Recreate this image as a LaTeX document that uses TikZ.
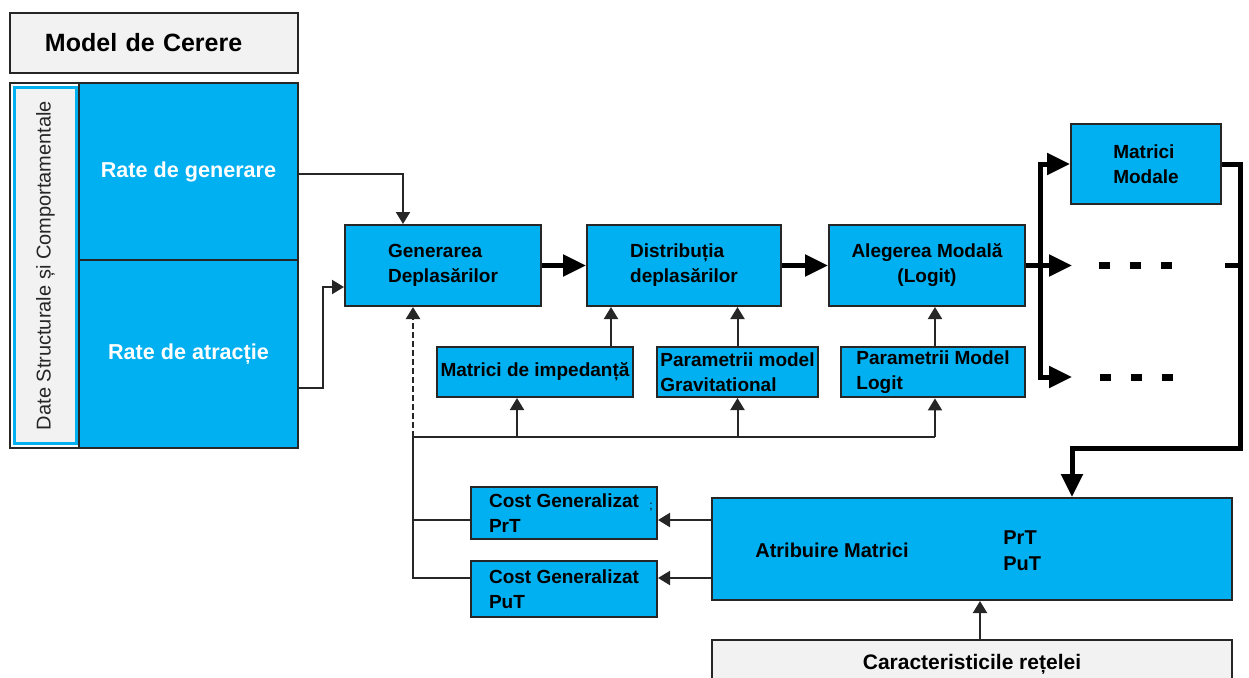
\documentclass[tikz,border=0pt]{standalone}
\usepackage{fontspec}
\setmainfont{Liberation Sans}
\usetikzlibrary{
    arrows.meta,
    calc,
    positioning
}
\definecolor{boxblue}{HTML}{00B0F0}
\definecolor{boxgrey}{HTML}{F2F2F2}
\definecolor{linegrey}{HTML}{262626}
\tikzset{
    bluebox/.style={draw=linegrey, line width=1pt, fill=boxblue, align=left, inner sep=2pt,
        font=\bfseries\fontsize{9.5}{12.5}\selectfont},
    greybox/.style={bluebox, fill=boxgrey},
    arr/.style={draw=linegrey, line width=1pt, -{Triangle[length=6pt,width=7pt]}},
    thk/.style={draw=black, line width=2.5pt},
    thkarr/.style={thk, -{Triangle[length=11.5pt,width=10.5pt]}},
    dashbar/.style={draw=black, line width=3.5pt, dash pattern=on 5.5pt off 10pt}
}

\begin{document}
\begin{tikzpicture}[x=0.5pt, y=-0.5pt]
    \useasboundingbox (0,0) rectangle (1249,677);
    \clip (0,0) rectangle (1249,677);
    % model de cerere
    \node[greybox, minimum width=144pt, minimum height=30pt, text width=109pt, inner xsep=17.5pt,
        font=\bfseries\fontsize{12.5}{14}\selectfont] (mdc) at (154,43) {Model de Cerere};
    \node[bluebox, minimum width=109.5pt, minimum height=88.5pt, text=white,
        font=\bfseries\fontsize{10.8}{13}\selectfont] (rg) at (188.5,171.5) {Rate de generare};
    \node[bluebox, minimum width=109.5pt, minimum height=94pt, text=white,
        font=\bfseries\fontsize{10.8}{13}\selectfont] (ra) at (188.5,354) {Rate de atracție};
    \node[fill=boxgrey, draw=boxblue, line width=1.5pt, minimum width=178pt, minimum height=31pt,
        rotate=90, text=linegrey, font=\fontsize{10}{12}\selectfont] (dsc) at (45.5,265.5)
        {Date Structurale și Comportamentale};
    \draw[linegrey, line width=1pt] (10,83) rectangle (298,448);

    % lantul principal
    \node[bluebox, minimum width=98pt, minimum height=40.5pt] (gen) at (443,265.5) {Generarea\\Deplasărilor};
    \node[bluebox, minimum width=97pt, minimum height=40.5pt] (dist) at (684,265.5) {Distribuția\\deplasărilor};
    \node[bluebox, minimum width=98pt, minimum height=40.5pt, align=center] (ale) at (927,265.5) {Alegerea Modală\\(Logit)};
    \node[bluebox, minimum width=75pt, minimum height=40pt] (mm) at (1146,164) {Matrici\\Modale};

    \node[bluebox, minimum width=98pt, minimum height=25pt] (imp) at (535,372) {Matrici de impedanță};
    \node[bluebox, minimum width=80.5pt, minimum height=25pt, inner xsep=1pt] (grav) at (737.5,372) {Parametrii model\\Gravitational};
    \node[bluebox, minimum width=92pt, minimum height=25pt] (logit) at (933,372) {Parametrii Model\\Logit};

    \node[bluebox, minimum width=93pt, minimum height=26pt] (cprt) at (564,513) {Cost Generalizat\\PrT};
    \node[bluebox, minimum width=93pt, minimum height=28pt] (cput) at (564,589) {Cost Generalizat\\PuT};
    \node[font=\fontsize{6}{7}\selectfont, inner sep=0pt] (semi) at (651,507) {;};

    \node[bluebox, minimum width=260pt, minimum height=51pt] (atr) at (972,549) {};
    \node[font=\bfseries\fontsize{10}{12.5}\selectfont] (atrtxt) at (832,550) {Atribuire Matrici};
    \node[font=\bfseries\fontsize{10}{13}\selectfont, align=left, anchor=west, inner sep=0pt] (atrmod) at (1003,551) {PrT\\PuT};
    \node[greybox, minimum width=260pt, minimum height=24pt, align=center,
        font=\bfseries\fontsize{10.5}{12.5}\selectfont] (car) at (972,664) {Caracteristicile rețelei};

    % puncte de legatura
    \coordinate (busl) at (413,437);
    \coordinate (busr) at (935,437);
    \coordinate (ypr) at (0,520);
    \coordinate (ypu) at (0,578);
    \coordinate (xb) at (1040,0);
    \coordinate (xr) at (1240,0);
    \coordinate (ybot) at (0,448);
    \coordinate (dots1) at (1072,265.5);
    \coordinate (dots2) at (1072,377);

    % legaturi
    \draw[arr] ([yshift=-1.25pt]rg.east) -| ([xshift=-20pt]gen.north);
    \draw[arr] ([yshift=30.5pt]ra.south east) -- ++(24,0) |- ([yshift=-10.75pt]gen.west);
    \draw[thkarr] (gen.east) -- (dist.west);
    \draw[thkarr] (dist.east) -- (ale.west);

    \draw[arr] ([xshift=38pt]imp.north) -- ([xshift=38pt]imp.north |- dist.south);
    \draw[arr] (grav.north) -- (grav.north |- dist.south);
    \draw[arr] ([xshift=1pt]logit.north) -- ([xshift=1pt]logit.north |- ale.south);

    \draw[linegrey, line width=1pt] (busl) -- (busr);
    \draw[arr] ([xshift=-9pt]imp.south |- busl) -- ([xshift=-9pt]imp.south);
    \draw[arr] (grav.south |- busl) -- (grav.south);
    \draw[arr] (busr) -- (busr |- logit.south);
    \draw[arr, dash pattern=on 3pt off 1.5pt, line width=1.2pt] (busl) -- (busl |- gen.south);
    \draw[linegrey, line width=1pt] (busl) -- (busl |- ypu) -- (cput.west |- ypu);
    \draw[linegrey, line width=1pt] (busl |- ypr) -- (cprt.west |- ypr);
    \draw[arr] (atr.west |- ypr) -- (cprt.east |- ypr);
    \draw[arr] (atr.west |- ypu) -- (cput.east |- ypu);
    \draw[arr] ([xshift=4pt]car.north) -- ([xshift=4pt]atr.south);

    % ramificarea modala
    \draw[thkarr] (ale.east) -- (dots1);
    \draw[thkarr] (ale.east -| xb) |- (mm.west);
    \draw[thkarr] (ale.east -| xb) |- (dots2);
    \draw[dashbar] ([xshift=13.5pt]dots1) -- ++(74,0);
    \draw[dashbar] ([xshift=14pt]dots2) -- ++(74,0);
    \draw[thk] ([xshift=-7.5pt]dots1 -| xr) -- (dots1 -| xr);
    \draw[thkarr] (mm.east) -- (mm.east -| xr) -- (xr |- ybot) -| ([xshift=50pt]atr.north);
\end{tikzpicture}
\end{document}
